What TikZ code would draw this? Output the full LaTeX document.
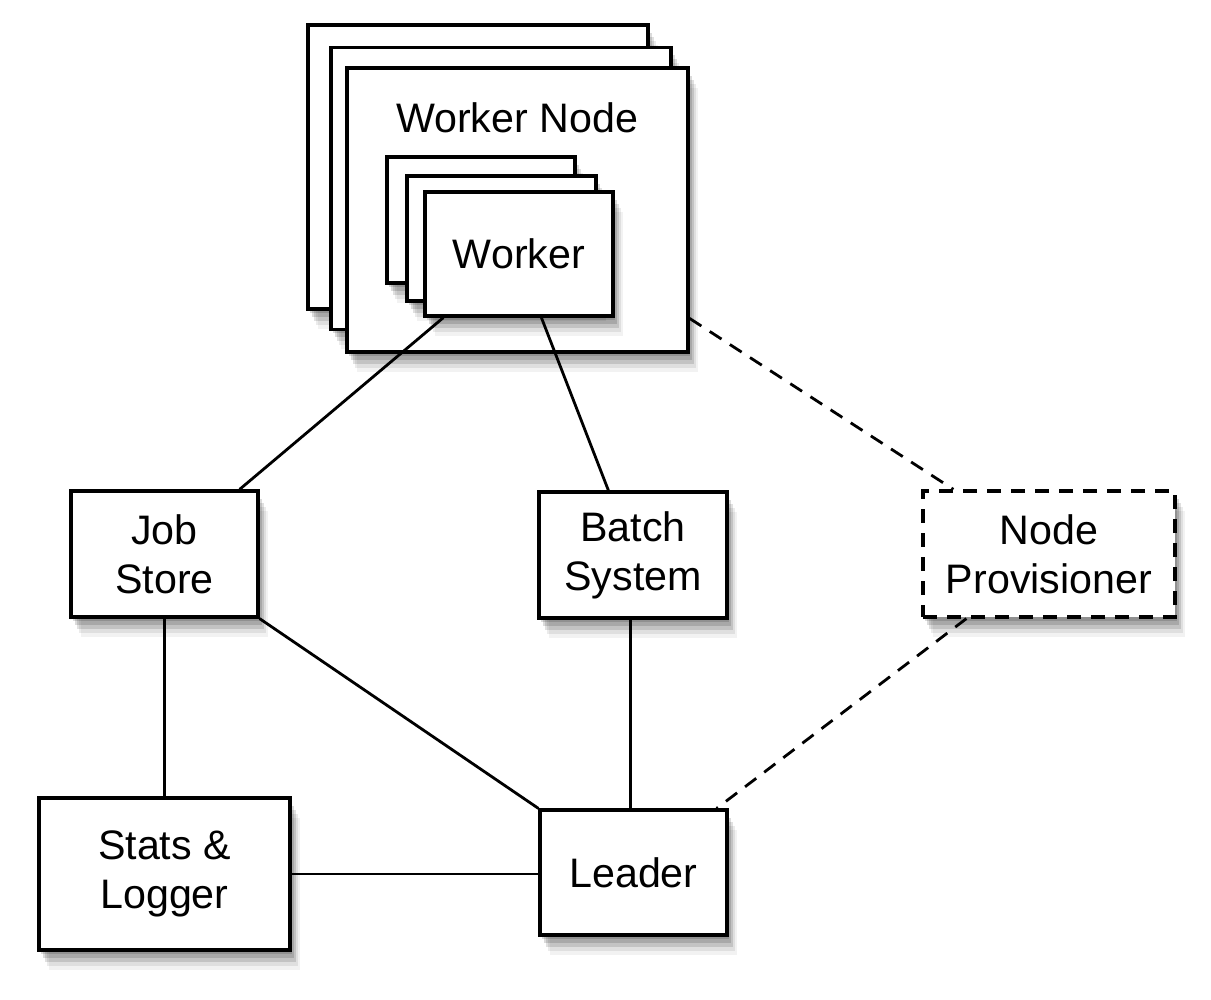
\documentclass[tikz,border=0pt]{standalone}
\usepackage{fontspec}
\setmainfont{Liberation Sans}
\usetikzlibrary{shadows,calc}
\tikzset{
  softshadow/.style={
    drop shadow={shadow xshift=1pt, shadow yshift=-2pt, opacity=0.14, fill=black},
    drop shadow={shadow xshift=2pt, shadow yshift=-4pt, opacity=0.14, fill=black},
    drop shadow={shadow xshift=3pt, shadow yshift=-6pt, opacity=0.12, fill=black},
    drop shadow={shadow xshift=4pt, shadow yshift=-8pt, opacity=0.08, fill=black},
    drop shadow={shadow xshift=5pt, shadow yshift=-10pt, opacity=0.05, fill=black}},
  box/.style={draw=black, line width=1.6pt, fill=white, rectangle, inner sep=0pt,
    align=center, font=\fontsize{20.6}{24.5}\selectfont, softshadow},
  link/.style={line width=1.4pt, draw=black},
  dlink/.style={line width=1.4pt, draw=black, dash pattern=on 7pt off 5pt},
}
\begin{document}
\begin{tikzpicture}[x=0.5pt,y=-0.5pt]
\useasboundingbox (0,0) rectangle (1211,1000);
% Worker node stack
\node[box, minimum width=170pt, minimum height=142pt] (wn3) at (478,167) {};
\node[box, minimum width=170pt, minimum height=141pt] (wn2) at (501,188.5) {};
\node[box, minimum width=170.5pt, minimum height=142pt] (wn1) at (517.5,210) {};
\node[font=\fontsize{20.6}{24.5}\selectfont] (wnlabel) at (517,118) {Worker Node};
% Worker stack
\node[box, minimum width=94pt, minimum height=63pt] (w3) at (481,220) {};
\node[box, minimum width=94.5pt, minimum height=62.5pt] (w2) at (501.5,238.5) {};
\node[box, minimum width=94pt, minimum height=62pt] (w1) at (519,254) {Worker};
% Other nodes
\node[box, minimum width=93.5pt, minimum height=63pt] (js) at (164.5,554) {Job\\Store};
\node[box, minimum width=94pt, minimum height=63pt] (bs) at (633,555) {Batch\\System};
\node[box, dash pattern=on 7pt off 5pt, minimum width=126pt, minimum height=63pt] (np) at (1049,554) {Node\\Provisioner};
\node[box, minimum width=125.5pt, minimum height=76pt] (sl) at (164.5,874) {Stats \&\\Logger};
\node[box, minimum width=93.5pt, minimum height=62.5pt] (ld) at (633.5,872.5) {Leader};
% Connectors
\draw[link] ($(w1.south west)+(20,0)$) -- ($(js.north east)+(-20,0)$);
\draw[link] ($(w1.south west)+(118,0)$) -- ($(bs.north west)+(71,0)$);
\draw[dlink] ($(wn1.north east)+(0,252)$) -- ($(np.north west)+(32,0)$);
\draw[link] (js.south) -- (sl.north);
\draw[link] (js.south east) -- (ld.north west);
\draw[link] ($(bs.south west)+(93,0)$) -- ($(ld.north west)+(92,0)$);
\draw[dlink] ($(np.south west)+(45,0)$) -- ($(ld.north east)+(-12,0)$);
\draw[link] (sl.east) -- (sl.east -| ld.west);
\end{tikzpicture}
\end{document}
